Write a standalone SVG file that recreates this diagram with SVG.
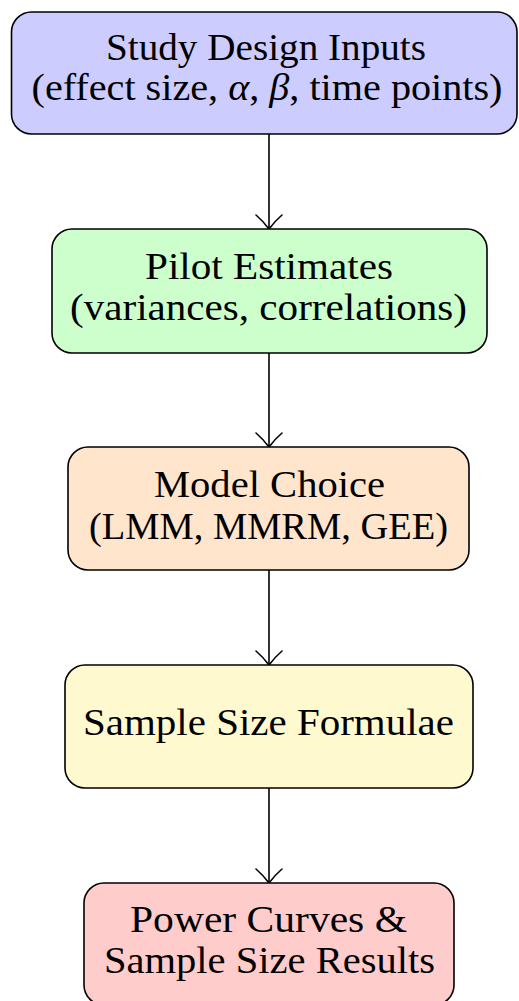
<svg xmlns="http://www.w3.org/2000/svg" width="519" height="1001" viewBox="0 0 519 1001">
<defs>
<style>
.box{stroke:#000;stroke-width:1.6}
.t{font-family:"Liberation Serif","DejaVu Serif",serif;font-size:37px;fill:#000;text-anchor:middle}
.edge{stroke:#000;stroke-width:1.6;fill:none}
.head{stroke:#000;stroke-width:1.6;fill:none;stroke-linecap:round;stroke-linejoin:round}
</style>
</defs>
<rect width="519" height="1001" fill="#fff"/>
<g id="connectors">
<line class="edge" x1="269" y1="134" x2="269" y2="228"/>
<path class="head" d="M256,215 Q263,221 269,229 Q275,221 282,215"/>
<line class="edge" x1="269" y1="353" x2="269" y2="446"/>
<path class="head" d="M256,433 Q263,439 269,447 Q275,439 282,433"/>
<line class="edge" x1="269" y1="570" x2="269" y2="664"/>
<path class="head" d="M256,651 Q263,657 269,665 Q275,657 282,651"/>
<line class="edge" x1="269" y1="788" x2="269" y2="882"/>
<path class="head" d="M256,869 Q263,875 269,883 Q275,875 282,869"/>
</g>
<g id="node-inputs">
<rect class="box" x="11.5" y="12" width="505.5" height="122" rx="20" fill="#ccccff"/>
<text class="t" x="266" y="60" textLength="320" lengthAdjust="spacingAndGlyphs">Study Design Inputs</text>
<text class="t" x="267" y="100" textLength="471" lengthAdjust="spacingAndGlyphs">(effect size, <tspan font-style="italic">α</tspan>, <tspan font-style="italic">β</tspan>, time points)</text>
</g>
<g id="node-pilot">
<rect class="box" x="52" y="229" width="435" height="124" rx="20" fill="#ccffcc"/>
<text class="t" x="269" y="279" textLength="248" lengthAdjust="spacingAndGlyphs">Pilot Estimates</text>
<text class="t" x="268.5" y="320" textLength="397" lengthAdjust="spacingAndGlyphs">(variances, correlations)</text>
</g>
<g id="node-model">
<rect class="box" x="68" y="447" width="401" height="123" rx="20" fill="#ffe5cc"/>
<text class="t" x="269.5" y="497" textLength="231" lengthAdjust="spacingAndGlyphs">Model Choice</text>
<text class="t" x="268.5" y="539" textLength="359" lengthAdjust="spacingAndGlyphs">(LMM, MMRM, GEE)</text>
</g>
<g id="node-formulae">
<rect class="box" x="65" y="665" width="408" height="123" rx="20" fill="#fff9d0"/>
<text class="t" x="268.5" y="735" textLength="371" lengthAdjust="spacingAndGlyphs">Sample Size Formulae</text>
</g>
<g id="node-results">
<rect class="box" x="84" y="883" width="370" height="122" rx="20" fill="#ffcccc"/>
<text class="t" x="268.5" y="932" textLength="277" lengthAdjust="spacingAndGlyphs">Power Curves &amp;</text>
<text class="t" x="269.5" y="973" textLength="331" lengthAdjust="spacingAndGlyphs">Sample Size Results</text>
</g>
</svg>
